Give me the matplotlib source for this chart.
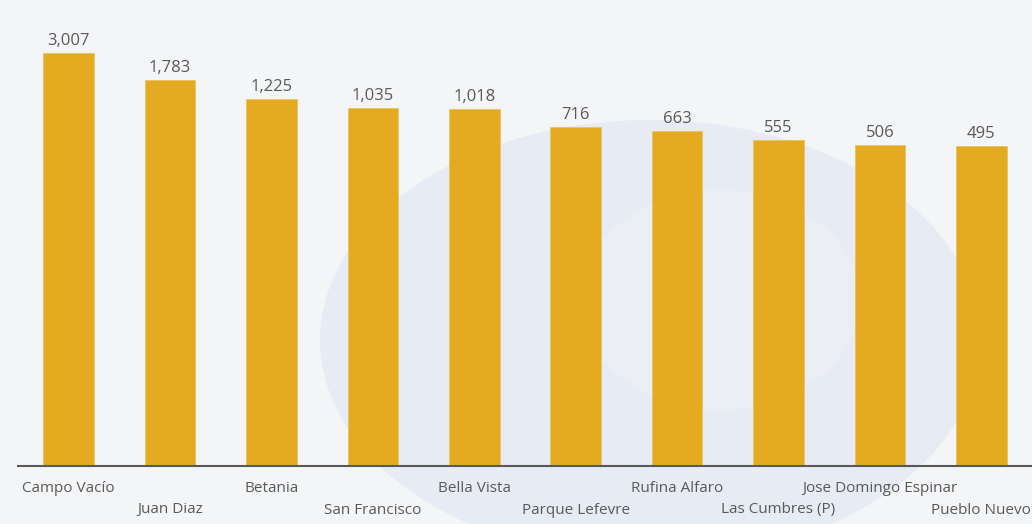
import matplotlib
matplotlib.use("Agg")
import matplotlib.pyplot as plt
from matplotlib.patches import Ellipse

plt.rcParams['font.family'] = ['Open Sans', 'DejaVu Sans']

barrios = ['Campo Vacío', 'Juan Diaz', 'Betania', 'San Francisco', 'Bella Vista',
           'Parque Lefevre', 'Rufina Alfaro', 'Las Cumbres (P)', 'Jose Domingo Espinar',
           'Pueblo Nuevo']
valores = [3007, 1783, 1225, 1035, 1018, 716, 663, 555, 506, 495]

bar_color = '#E4AB22'
text_color = '#595959'
bg = '#F4F5F7'

W, H = 1032, 524
fig = plt.figure(figsize=(W / 100, H / 100), dpi=100, facecolor=bg)

# faint watermark behind the chart
wm = fig.add_axes([0, 0, 1, 1], zorder=0)
wm.set_xlim(0, W)
wm.set_ylim(H, 0)
wm.axis('off')
wm.add_patch(Ellipse((650, 340), 660, 440, facecolor='#E3E8F4', edgecolor='none', alpha=0.75))
wm.add_patch(Ellipse((720, 300), 280, 220, facecolor='#EEF1F6', edgecolor='none', alpha=0.6))

ax_bottom = 466
ax = fig.add_axes([18 / W, (H - ax_bottom) / H, 1 - 18 / W, ax_bottom / H], zorder=1)
ax.patch.set_alpha(0)

px_per_decade = 118.7
ax.set_yscale('log')
ax.set_ylim(1, 10 ** (ax_bottom / px_per_decade))
ax.set_xlim(-0.5, len(valores) - 0.5)

x = range(len(valores))
ax.bar(x, valores, width=0.5, color=bar_color, edgecolor='#EBC25E', linewidth=0.6)

for i, v in enumerate(valores):
    ax.annotate(f'{v:,}', (i, v), xytext=(0, 3), textcoords='offset points',
                ha='center', va='bottom', fontsize=12, color=text_color)

ax.set_xticks(list(x))
ax.set_xticklabels([])
for i, name in enumerate(barrios):
    dy = 22 if i % 2 == 0 else 44
    ax.annotate(name, (i, 0), xycoords=('data', 'axes fraction'),
                xytext=(0, -dy), textcoords='offset pixels',
                ha='center', va='center', fontsize=11, color=text_color,
                annotation_clip=False)

ax.tick_params(axis='x', length=0)
ax.set_yticks([])
ax.minorticks_off()
for s in ['top', 'right', 'left']:
    ax.spines[s].set_visible(False)
ax.spines['bottom'].set_color(text_color)
ax.spines['bottom'].set_linewidth(1.5)

fig.savefig('out.png', dpi=100, facecolor=bg)
